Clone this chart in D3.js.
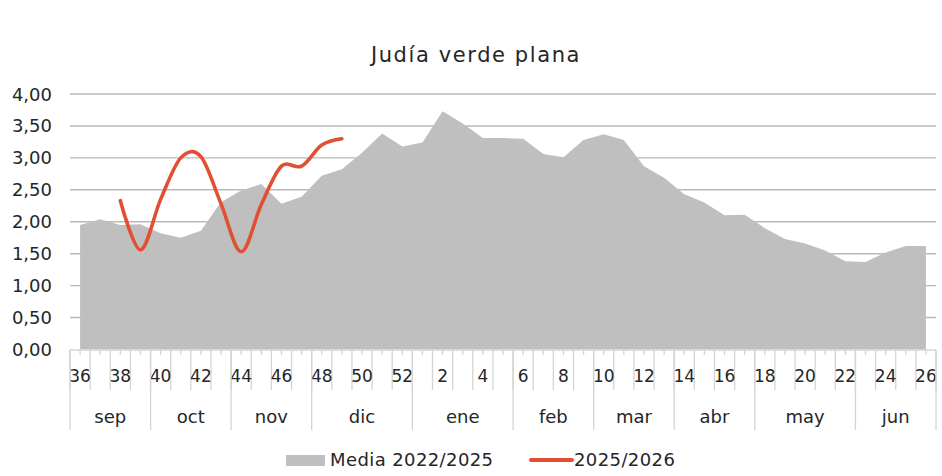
<!DOCTYPE html>
<html><head><meta charset="utf-8">
<script src="https://cdn.jsdelivr.net/npm/d3@7"></script>
<style>
html,body{margin:0;padding:0;background:#fff;}
svg{display:block;font-family:"DejaVu Sans",sans-serif;}
</style></head>
<body>
<svg id="chart" width="942" height="476"></svg>
<script>
const title = "Judía verde plana";
const weeks = [36,37,38,39,40,41,42,43,44,45,46,47,48,49,50,51,52,1,2,3,4,5,6,7,8,9,10,11,12,13,14,15,16,17,18,19,20,21,22,23,24,25,26];
const media2225 = [1.95,2.04,1.95,1.96,1.82,1.75,1.86,2.31,2.49,2.59,2.28,2.39,2.72,2.82,3.08,3.38,3.18,3.24,3.73,3.54,3.31,3.31,3.30,3.06,3.01,3.28,3.37,3.28,2.87,2.69,2.43,2.30,2.10,2.11,1.90,1.73,1.66,1.55,1.38,1.37,1.52,1.62,1.62];
const season2526 = [null,null,2.33,1.56,2.35,3.00,3.02,2.28,1.53,2.27,2.87,2.87,3.20,3.30];
const months = ["sep","oct","nov","dic","ene","feb","mar","abr","may","jun"];
const monthWeeks = [4,4,4,5,5,4,4,4,5,4];
const yTicks = [0,0.5,1,1.5,2,2.5,3,3.5,4];
const seriesNames = ["Media 2022/2025","2025/2026"];

(function () {
const svg = d3.select("#chart");
const pLeft = 70, pRight = 936, pTop = 94, pBottom = 349.5;

const x = d3.scaleBand().domain(d3.range(weeks.length)).range([pLeft, pRight]).padding(0);
const bw = x.bandwidth();
const cx = i => x(i) + bw / 2;
const y = d3.scaleLinear().domain([0, 4]).range([pBottom, pTop]);
const fmt = v => d3.format(".2f")(v).replace(".", ",");

// gridlines
svg.append("g").selectAll("line").data(yTicks.filter(d => d > 0)).join("line")
  .attr("x1", pLeft).attr("x2", pRight)
  .attr("y1", d => y(d)).attr("y2", d => y(d))
  .attr("stroke", "#b9b9b9").attr("stroke-width", 1.4);

// y labels
svg.append("g").selectAll("text").data(yTicks).join("text")
  .attr("x", 52).attr("y", d => y(d) + 6.5)
  .attr("text-anchor", "end").attr("font-size", 18).attr("fill", "#262626")
  .text(fmt);

// area
const area = d3.area().x((d, i) => cx(i)).y0(y(0)).y1(d => y(d)).curve(d3.curveLinear);
svg.append("path").datum(media2225).attr("d", area).attr("fill", "#bfbfbf");

// x axis line
const axisCol = "#d4d4d4";
svg.append("line").attr("x1", pLeft).attr("x2", pRight).attr("y1", 350).attr("y2", 350)
  .attr("stroke", axisCol).attr("stroke-width", 1.3);

const gAx = svg.append("g");
gAx.selectAll("line.b").data(d3.range(weeks.length + 1)).join("line").attr("class", "b")
  .attr("x1", i => pLeft + i * bw).attr("x2", i => pLeft + i * bw)
  .attr("y1", 350).attr("y2", 390)
  .attr("stroke", axisCol).attr("stroke-width", 1.3);
gAx.selectAll("line.c").data(d3.range(weeks.length)).join("line").attr("class", "c")
  .attr("x1", i => cx(i)).attr("x2", i => cx(i))
  .attr("y1", 350).attr("y2", 355)
  .attr("stroke", axisCol).attr("stroke-width", 1.3);
gAx.selectAll("text.w").data(d3.range(0, weeks.length, 2)).join("text").attr("class", "w")
  .attr("x", i => cx(i)).attr("y", 382)
  .attr("text-anchor", "middle").attr("font-size", 17).attr("fill", "#262626")
  .text(i => weeks[i]);
let acc = 0;
const mStarts = monthWeeks.map(n => { const s = acc; acc += n; return s; });
gAx.selectAll("line.m").data(mStarts.concat([weeks.length])).join("line").attr("class", "m")
  .attr("x1", s => pLeft + s * bw).attr("x2", s => pLeft + s * bw)
  .attr("y1", 350).attr("y2", 430)
  .attr("stroke", axisCol).attr("stroke-width", 1.3);
gAx.selectAll("text.m").data(months).join("text").attr("class", "m")
  .attr("x", (m, i) => pLeft + (mStarts[i] + monthWeeks[i] / 2) * bw).attr("y", 423)
  .attr("text-anchor", "middle").attr("font-size", 18).attr("fill", "#262626")
  .text(m => m);

// red line
const line = d3.line().defined(d => d != null).x((d, i) => cx(i)).y(d => y(d)).curve(d3.curveCardinal.tension(0));
svg.append("path").datum(season2526).attr("d", line)
  .attr("fill", "none").attr("stroke", "#e25033").attr("stroke-width", 3.6).attr("stroke-linecap", "round");

// title
svg.append("text").attr("x", 476).attr("y", 62).attr("text-anchor", "middle")
  .attr("font-size", 21).attr("letter-spacing", 1.6).attr("fill", "#262626").text(title);

// legend
svg.append("rect").attr("x", 286).attr("y", 455).attr("width", 39).attr("height", 11).attr("fill", "#bfbfbf");
svg.append("text").attr("x", 330).attr("y", 466).attr("font-size", 18).attr("letter-spacing", 0.4).attr("fill", "#262626").text(seriesNames[0]);
svg.append("line").attr("x1", 531).attr("x2", 572).attr("y1", 460).attr("y2", 460)
  .attr("stroke", "#e25033").attr("stroke-width", 4).attr("stroke-linecap", "round");
svg.append("text").attr("x", 574).attr("y", 466).attr("font-size", 18).attr("letter-spacing", 0.4).attr("fill", "#262626").text(seriesNames[1]);
})();
</script>
</body></html>
